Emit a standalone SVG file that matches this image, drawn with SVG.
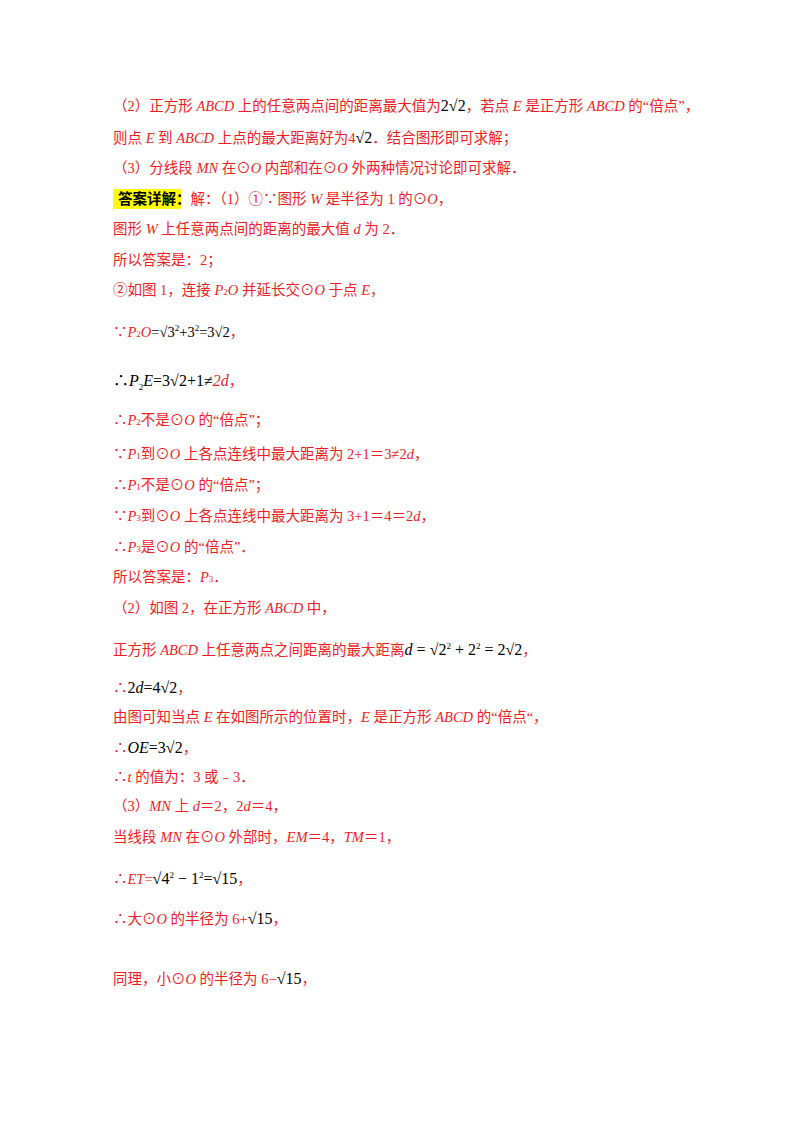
<svg xmlns="http://www.w3.org/2000/svg" width="800" height="1132" viewBox="0 0 800 1132">
<style>
text{font-family:"Liberation Serif","Noto Sans CJK SC",serif;font-size:14.5px;fill:#ee1c25}
.k{fill:#000}
.i{font-style:italic}
.m{font-size:16px;fill:#000}
.s{font-size:9px}
.b{font-weight:bold;fill:#000}
</style>
<rect width="800" height="1132" fill="#fff"/>
<text x="113" y="111">（2）正方形 <tspan class="i">ABCD</tspan> 上的任意两点间的距离最大值为<tspan class="m">2√2</tspan>，若点 <tspan class="i">E</tspan> 是正方形 <tspan class="i">ABCD</tspan> 的“倍点”，</text>
<text x="113" y="143">则点 <tspan class="i">E</tspan> 到 <tspan class="i">ABCD</tspan> 上点的最大距离好为4<tspan class="m">√2</tspan>．结合图形即可求解；</text>
<text x="113" y="173">（3）分线段 <tspan class="i">MN</tspan> 在⊙<tspan class="i">O</tspan> 内部和在⊙<tspan class="i">O</tspan> 外两种情况讨论即可求解．</text>
<rect x="113" y="189" width="68" height="20" fill="#ffff00"/>
<text x="118" y="204"><tspan class="b">答案详解：</tspan>解：（1）①∵图形 <tspan class="i">W</tspan> 是半径为 1 的⊙<tspan class="i">O</tspan>，</text>
<text x="113" y="234">图形 <tspan class="i">W</tspan> 上任意两点间的距离的最大值 <tspan class="i">d</tspan> 为 2．</text>
<text x="113" y="265">所以答案是：2；</text>
<text x="113" y="295">②如图 1，连接 <tspan class="i">P</tspan><tspan class="s">2</tspan><tspan class="i">O</tspan> 并延长交⊙<tspan class="i">O</tspan> 于点 <tspan class="i">E</tspan>，</text>
<text x="113" y="337">∵<tspan class="i">P</tspan><tspan class="s">2</tspan><tspan class="i">O</tspan><tspan class="k">=√3</tspan><tspan class="k s" dy="-6">2</tspan><tspan class="k" dy="6">+3</tspan><tspan class="k s" dy="-6">2</tspan><tspan class="k" dy="6">=3√2</tspan>，</text>
<text x="113" y="386"><tspan class="m">∴</tspan><tspan class="m i">P</tspan><tspan class="k s" dy="4">2</tspan><tspan class="m i" dy="-4">E</tspan><tspan class="m">=3√2+1≠</tspan><tspan class="i" style="font-size:16px">2d</tspan>，</text>
<text x="113" y="425">∴<tspan class="i">P</tspan><tspan class="s">2</tspan>不是⊙<tspan class="i">O</tspan> 的“倍点”；</text>
<text x="113" y="459">∵<tspan class="i">P</tspan><tspan class="s">1</tspan>到⊙<tspan class="i">O</tspan> 上各点连线中最大距离为 2+1＝3≠2<tspan class="i">d</tspan>，</text>
<text x="113" y="490">∴<tspan class="i">P</tspan><tspan class="s">1</tspan>不是⊙<tspan class="i">O</tspan> 的“倍点”；</text>
<text x="113" y="521">∵<tspan class="i">P</tspan><tspan class="s">3</tspan>到⊙<tspan class="i">O</tspan> 上各点连线中最大距离为 3+1＝4＝2<tspan class="i">d</tspan>，</text>
<text x="113" y="552">∴<tspan class="i">P</tspan><tspan class="s">3</tspan>是⊙<tspan class="i">O</tspan> 的“倍点”．</text>
<text x="113" y="582">所以答案是：<tspan class="i">P</tspan><tspan class="s">3</tspan>．</text>
<text x="113" y="613">（2）如图 2，在正方形 <tspan class="i">ABCD</tspan> 中，</text>
<text x="113" y="655">正方形 <tspan class="i">ABCD</tspan> 上任意两点之间距离的最大距离<tspan class="m i">d</tspan><tspan class="m"> = √2</tspan><tspan class="k s" dy="-6">2</tspan><tspan class="m" dy="6"> + 2</tspan><tspan class="k s" dy="-6">2</tspan><tspan class="m" dy="6"> = 2√2</tspan>，</text>
<text x="113" y="693">∴<tspan class="m">2</tspan><tspan class="m i">d</tspan><tspan class="m">=4√2</tspan>，</text>
<text x="113" y="722">由图可知当点 <tspan class="i">E</tspan> 在如图所示的位置时，<tspan class="i">E</tspan> 是正方形 <tspan class="i">ABCD</tspan> 的“倍点“，</text>
<text x="113" y="753">∴<tspan class="m i">OE</tspan><tspan class="m">=3√2</tspan>，</text>
<text x="113" y="782">∴<tspan class="i">t</tspan> 的值为：3 或﹣3．</text>
<text x="113" y="811">（3）<tspan class="i">MN</tspan> 上 <tspan class="i">d</tspan>＝2，2<tspan class="i">d</tspan>＝4，</text>
<text x="113" y="842">当线段 <tspan class="i">MN</tspan> 在⊙<tspan class="i">O</tspan> 外部时，<tspan class="i">EM</tspan>＝4，<tspan class="i">TM</tspan>＝1，</text>
<text x="113" y="884">∴<tspan class="i">ET</tspan>=<tspan class="m">√4</tspan><tspan class="k s" dy="-6">2</tspan><tspan class="m" dy="6"> − 1</tspan><tspan class="k s" dy="-6">2</tspan><tspan class="m" dy="6">=√15</tspan>，</text>
<text x="113" y="924">∴大⊙<tspan class="i">O</tspan> 的半径为 6+<tspan class="m">√15</tspan>，</text>
<text x="113" y="984">同理，小⊙<tspan class="i">O</tspan> 的半径为 6−<tspan class="m">√15</tspan>，</text>
</svg>
